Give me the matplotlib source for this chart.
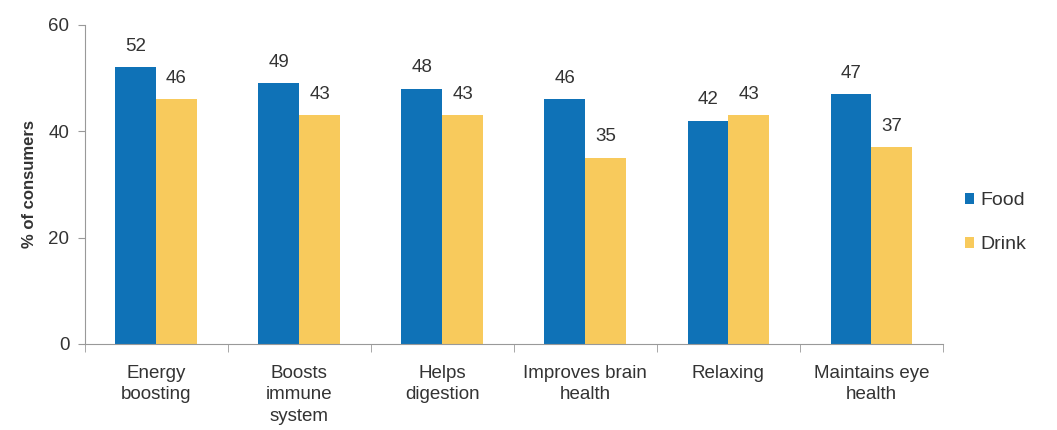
import numpy as np
import matplotlib
matplotlib.use("Agg")
import matplotlib.pyplot as plt

categories = ["Energy\nboosting", "Boosts\nimmune\nsystem", "Helps\ndigestion",
              "Improves brain\nhealth", "Relaxing", "Maintains eye\nhealth"]
food = [52, 49, 48, 46, 42, 47]
drink = [46, 43, 43, 35, 43, 37]

plt.rcParams['font.family'] = ['Liberation Sans', 'DejaVu Sans']
txt = '#333333'
blue = '#0F72B7'
yellow = '#F8CA5C'

fig = plt.figure(figsize=(10.57, 4.30), dpi=100)
ax = fig.add_axes([0.080, 0.2, 0.812, 0.742])

x = np.arange(len(categories))
w = 0.285
b1 = ax.bar(x - w/2, food, w, color=blue, label='Food')
b2 = ax.bar(x + w/2, drink, w, color=yellow, label='Drink')

for bars, vals in ((b1, food), (b2, drink)):
    for r, v in zip(bars, vals):
        ax.annotate(str(v), (r.get_x() + r.get_width()/2, v), xytext=(0, 9),
                    textcoords='offset points', ha='center', va='bottom',
                    fontsize=13.5, color=txt)

ax.set_xlim(-0.5, len(categories) - 0.5)
ax.set_ylim(0, 60)
ax.set_yticks([0, 20, 40, 60])
ax.set_xticks(x)
ax.set_xticklabels(categories, fontsize=13.5, color=txt, linespacing=1.35)
ax.set_xticks(np.arange(len(categories) + 1) - 0.5, minor=True)
ax.tick_params(axis='x', which='major', length=0, pad=15)
ax.tick_params(axis='x', which='minor', length=6, color='#999999')
ax.tick_params(axis='y', length=5, color='#999999', labelsize=13.5, labelcolor=txt, pad=6)
ax.set_ylabel('% of consumers', fontsize=12, fontweight='bold', color=txt, labelpad=8)

for s in ['top', 'right']:
    ax.spines[s].set_visible(False)
for s in ['left', 'bottom']:
    ax.spines[s].set_color('#999999')

ax.legend(loc='center left', bbox_to_anchor=(1.005, 0.38), frameon=False,
          fontsize=14, handlelength=0.5, handleheight=0.5, labelspacing=1.4,
          handletextpad=0.3, labelcolor=txt)

fig.savefig('out.png', dpi=100)
